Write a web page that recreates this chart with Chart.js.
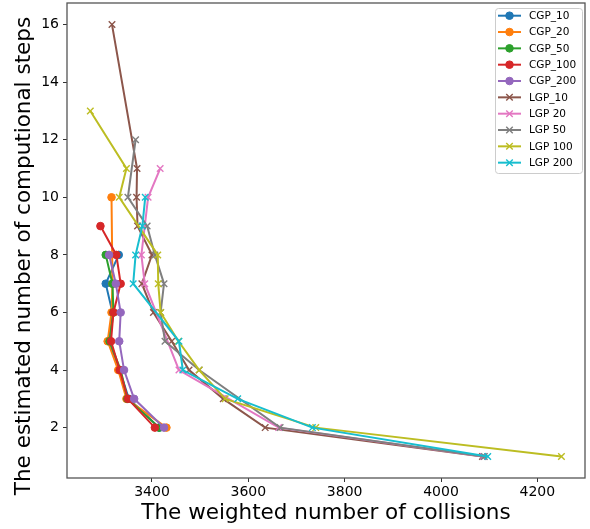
<!DOCTYPE html>
<html>
<head>
<meta charset="utf-8">
<script src="https://cdn.jsdelivr.net/npm/chart.js@4.4.0/dist/chart.umd.min.js"></script>
<style>
html, body { margin: 0; padding: 0; background: #fff; }
</style>
</head>
<body>
<canvas id="chart" width="590" height="529"></canvas>
<script>
// tick labels
const xTicks = [3400, 3600, 3800, 4000, 4200];
const yTicks = [2, 4, 6, 8, 10, 12, 14, 16];

// CGP series: steps (y) and weighted collisions (x)
const cgp10Steps = [8, 7, 6, 5, 4, 3, 2];
const cgp10Coll = [3331, 3304, 3318, 3310, 3333, 3352, 3415];
const cgp20Steps = [10, 7, 6, 5, 4, 3, 2];
const cgp20Coll = [3316, 3318, 3316, 3308, 3330, 3347, 3430];
const cgp50Steps = [8, 7, 6, 5, 4, 3, 2];
const cgp50Coll = [3304, 3318, 3320, 3312, 3335, 3349, 3415];
const cgp100Steps = [9, 8, 7, 6, 5, 4, 3, 2];
const cgp100Coll = [3293, 3326, 3335, 3320, 3315, 3333, 3350, 3406];
const cgp200Steps = [8, 7, 6, 5, 4, 3, 2];
const cgp200Coll = [3311, 3325, 3335, 3332, 3342, 3363, 3425];

// LGP series
const lgp10Steps = [16, 11, 10, 9, 8, 7, 6, 5, 4, 3, 2, 1];
const lgp10Coll = [3317, 3369, 3368, 3370, 3400, 3379, 3403, 3441, 3477, 3548, 3635, 4086];
const lgp20Steps = [11, 10, 8, 7, 4, 2, 1];
const lgp20Coll = [3417, 3392, 3378, 3385, 3456, 3663, 4088];
const lgp50Steps = [12, 10, 9, 8, 7, 6, 5, 4, 2, 1];
const lgp50Coll = [3366, 3350, 3390, 3406, 3425, 3418, 3427, 3498, 3666, 4090];
const lgp100Steps = [13, 11, 10, 8, 7, 6, 5, 4, 3, 2, 1];
const lgp100Coll = [3272, 3347, 3332, 3412, 3413, 3418, 3455, 3498, 3552, 3740, 4250];
const lgp200Steps = [10, 9, 8, 7, 5, 4, 3, 2, 1];
const lgp200Coll = [3386, 3380, 3366, 3361, 3456, 3464, 3578, 3733, 4097];

const series = [
    { label: 'CGP_10', x: cgp10Coll, y: cgp10Steps, color: '#1f77b4', marker: 'circle' },
    { label: 'CGP_20', x: cgp20Coll, y: cgp20Steps, color: '#ff7f0e', marker: 'circle' },
    { label: 'CGP_50', x: cgp50Coll, y: cgp50Steps, color: '#2ca02c', marker: 'circle' },
    { label: 'CGP_100', x: cgp100Coll, y: cgp100Steps, color: '#d62728', marker: 'circle' },
    { label: 'CGP_200', x: cgp200Coll, y: cgp200Steps, color: '#9467bd', marker: 'circle' },
    { label: 'LGP_10', x: lgp10Coll, y: lgp10Steps, color: '#8c564b', marker: 'crossRot' },
    { label: 'LGP 20', x: lgp20Coll, y: lgp20Steps, color: '#e377c2', marker: 'crossRot' },
    { label: 'LGP 50', x: lgp50Coll, y: lgp50Steps, color: '#7f7f7f', marker: 'crossRot' },
    { label: 'LGP 100', x: lgp100Coll, y: lgp100Steps, color: '#bcbd22', marker: 'crossRot' },
    { label: 'LGP 200', x: lgp200Coll, y: lgp200Steps, color: '#17becf', marker: 'crossRot' }
];

const FONT = "'DejaVu Sans', sans-serif";
const yTitle = 'The estimated number of computional steps';

// box around the plot, like matplotlib spines
const framePlugin = {
    id: 'frame',
    afterDatasetsDraw(chart) {
        const { ctx, chartArea: a } = chart;
        ctx.save();
        ctx.strokeStyle = '#555';
        ctx.lineWidth = 1.3;
        ctx.strokeRect(a.left, a.top, a.right - a.left, a.bottom - a.top);
        ctx.restore();
    }
};

// y label sits a bit lower than the axis centre in the original
const yTitlePlugin = {
    id: 'yTitle',
    afterDraw(chart) {
        const ctx = chart.ctx;
        ctx.save();
        ctx.translate(24, 256);
        ctx.rotate(-Math.PI / 2);
        ctx.font = '21.5px ' + FONT;
        ctx.fillStyle = '#000';
        ctx.textAlign = 'center';
        ctx.textBaseline = 'middle';
        ctx.fillText(yTitle, 0, 0);
        ctx.restore();
    }
};

// matplotlib style legend: line with marker in the middle
const legendPlugin = {
    id: 'mplLegend',
    afterDraw(chart) {
        const ctx = chart.ctx;
        const bx = 495, by = 8, bw = 87, bh = 165;
        ctx.save();
        ctx.fillStyle = 'rgba(255,255,255,0.8)';
        ctx.strokeStyle = '#cccccc';
        ctx.lineWidth = 1;
        ctx.beginPath();
        ctx.roundRect(bx + 0.5, by + 0.5, bw, bh, 3);
        ctx.fill();
        ctx.stroke();
        ctx.font = '10.5px ' + FONT;
        ctx.textBaseline = 'middle';
        chart.data.datasets.forEach((ds, i) => {
            const y = 15.7 + i * 16.33;
            ctx.strokeStyle = ds.borderColor;
            ctx.lineWidth = 2;
            ctx.beginPath();
            ctx.moveTo(498, y);
            ctx.lineTo(521, y);
            ctx.stroke();
            ctx.fillStyle = ds.borderColor;
            ctx.lineWidth = ds.pointBorderWidth;
            Chart.helpers.drawPoint(ctx, {
                pointStyle: ds.pointStyle,
                radius: ds.pointRadius,
                borderWidth: ds.pointBorderWidth
            }, 509.5, y);
            ctx.fillStyle = '#000';
            ctx.fillText(ds.label, 529, y + 0.5);
        });
        ctx.restore();
    }
};

new Chart(document.getElementById('chart'), {
    type: 'line',
    data: {
        datasets: series.map((s, i) => ({
            label: s.label,
            data: s.x.map((v, j) => ({ x: v, y: s.y[j] })),
            borderColor: s.color,
            backgroundColor: s.color,
            borderWidth: 2,
            pointStyle: s.marker,
            pointRadius: s.marker === 'circle' ? 3.8 : 4.6,
            pointBorderWidth: s.marker === 'circle' ? 1 : 1.4,
            pointHoverRadius: 0,
            tension: 0,
            fill: false,
            order: series.length - i
        }))
    },
    options: {
        responsive: false,
        animation: false,
        devicePixelRatio: 1,
        layout: { autoPadding: false, padding: { top: 3, right: 5, left: 0, bottom: 0 } },
        plugins: {
            legend: { display: false },
            tooltip: { enabled: false }
        },
        scales: {
            x: {
                type: 'linear',
                min: 3223.6,
                max: 4298.9,
                afterBuildTicks: (scale) => { scale.ticks = xTicks.map(v => ({ value: v })); },
                afterFit: (scale) => {
                    scale.height = 51;
                    scale.paddingLeft = 0;
                    scale.paddingRight = 0;
                },
                ticks: {
                    font: { family: FONT, size: 14 },
                    color: '#000',
                    padding: 2,
                    maxRotation: 0,
                    callback: (v) => String(v)
                },
                grid: { drawOnChartArea: false, drawTicks: true, tickLength: 4, color: '#333' },
                border: { display: false },
                title: {
                    display: true,
                    text: 'The weighted number of collisions',
                    font: { family: FONT, size: 21.5 },
                    color: '#000',
                    padding: { top: 0, bottom: 3 }
                }
            },
            y: {
                min: 0.25,
                max: 16.75,
                afterBuildTicks: (scale) => { scale.ticks = yTicks.map(v => ({ value: v })); },
                afterFit: (scale) => {
                    scale.width = 67;
                    scale.paddingTop = 0;
                    scale.paddingBottom = 0;
                },
                ticks: {
                    font: { family: FONT, size: 14 },
                    color: '#000',
                    padding: 4,
                    callback: (v) => String(v)
                },
                grid: { drawOnChartArea: false, drawTicks: true, tickLength: 4, color: '#333' },
                border: { display: false }
            }
        }
    },
    plugins: [framePlugin, yTitlePlugin, legendPlugin]
});
</script>
</body>
</html>
